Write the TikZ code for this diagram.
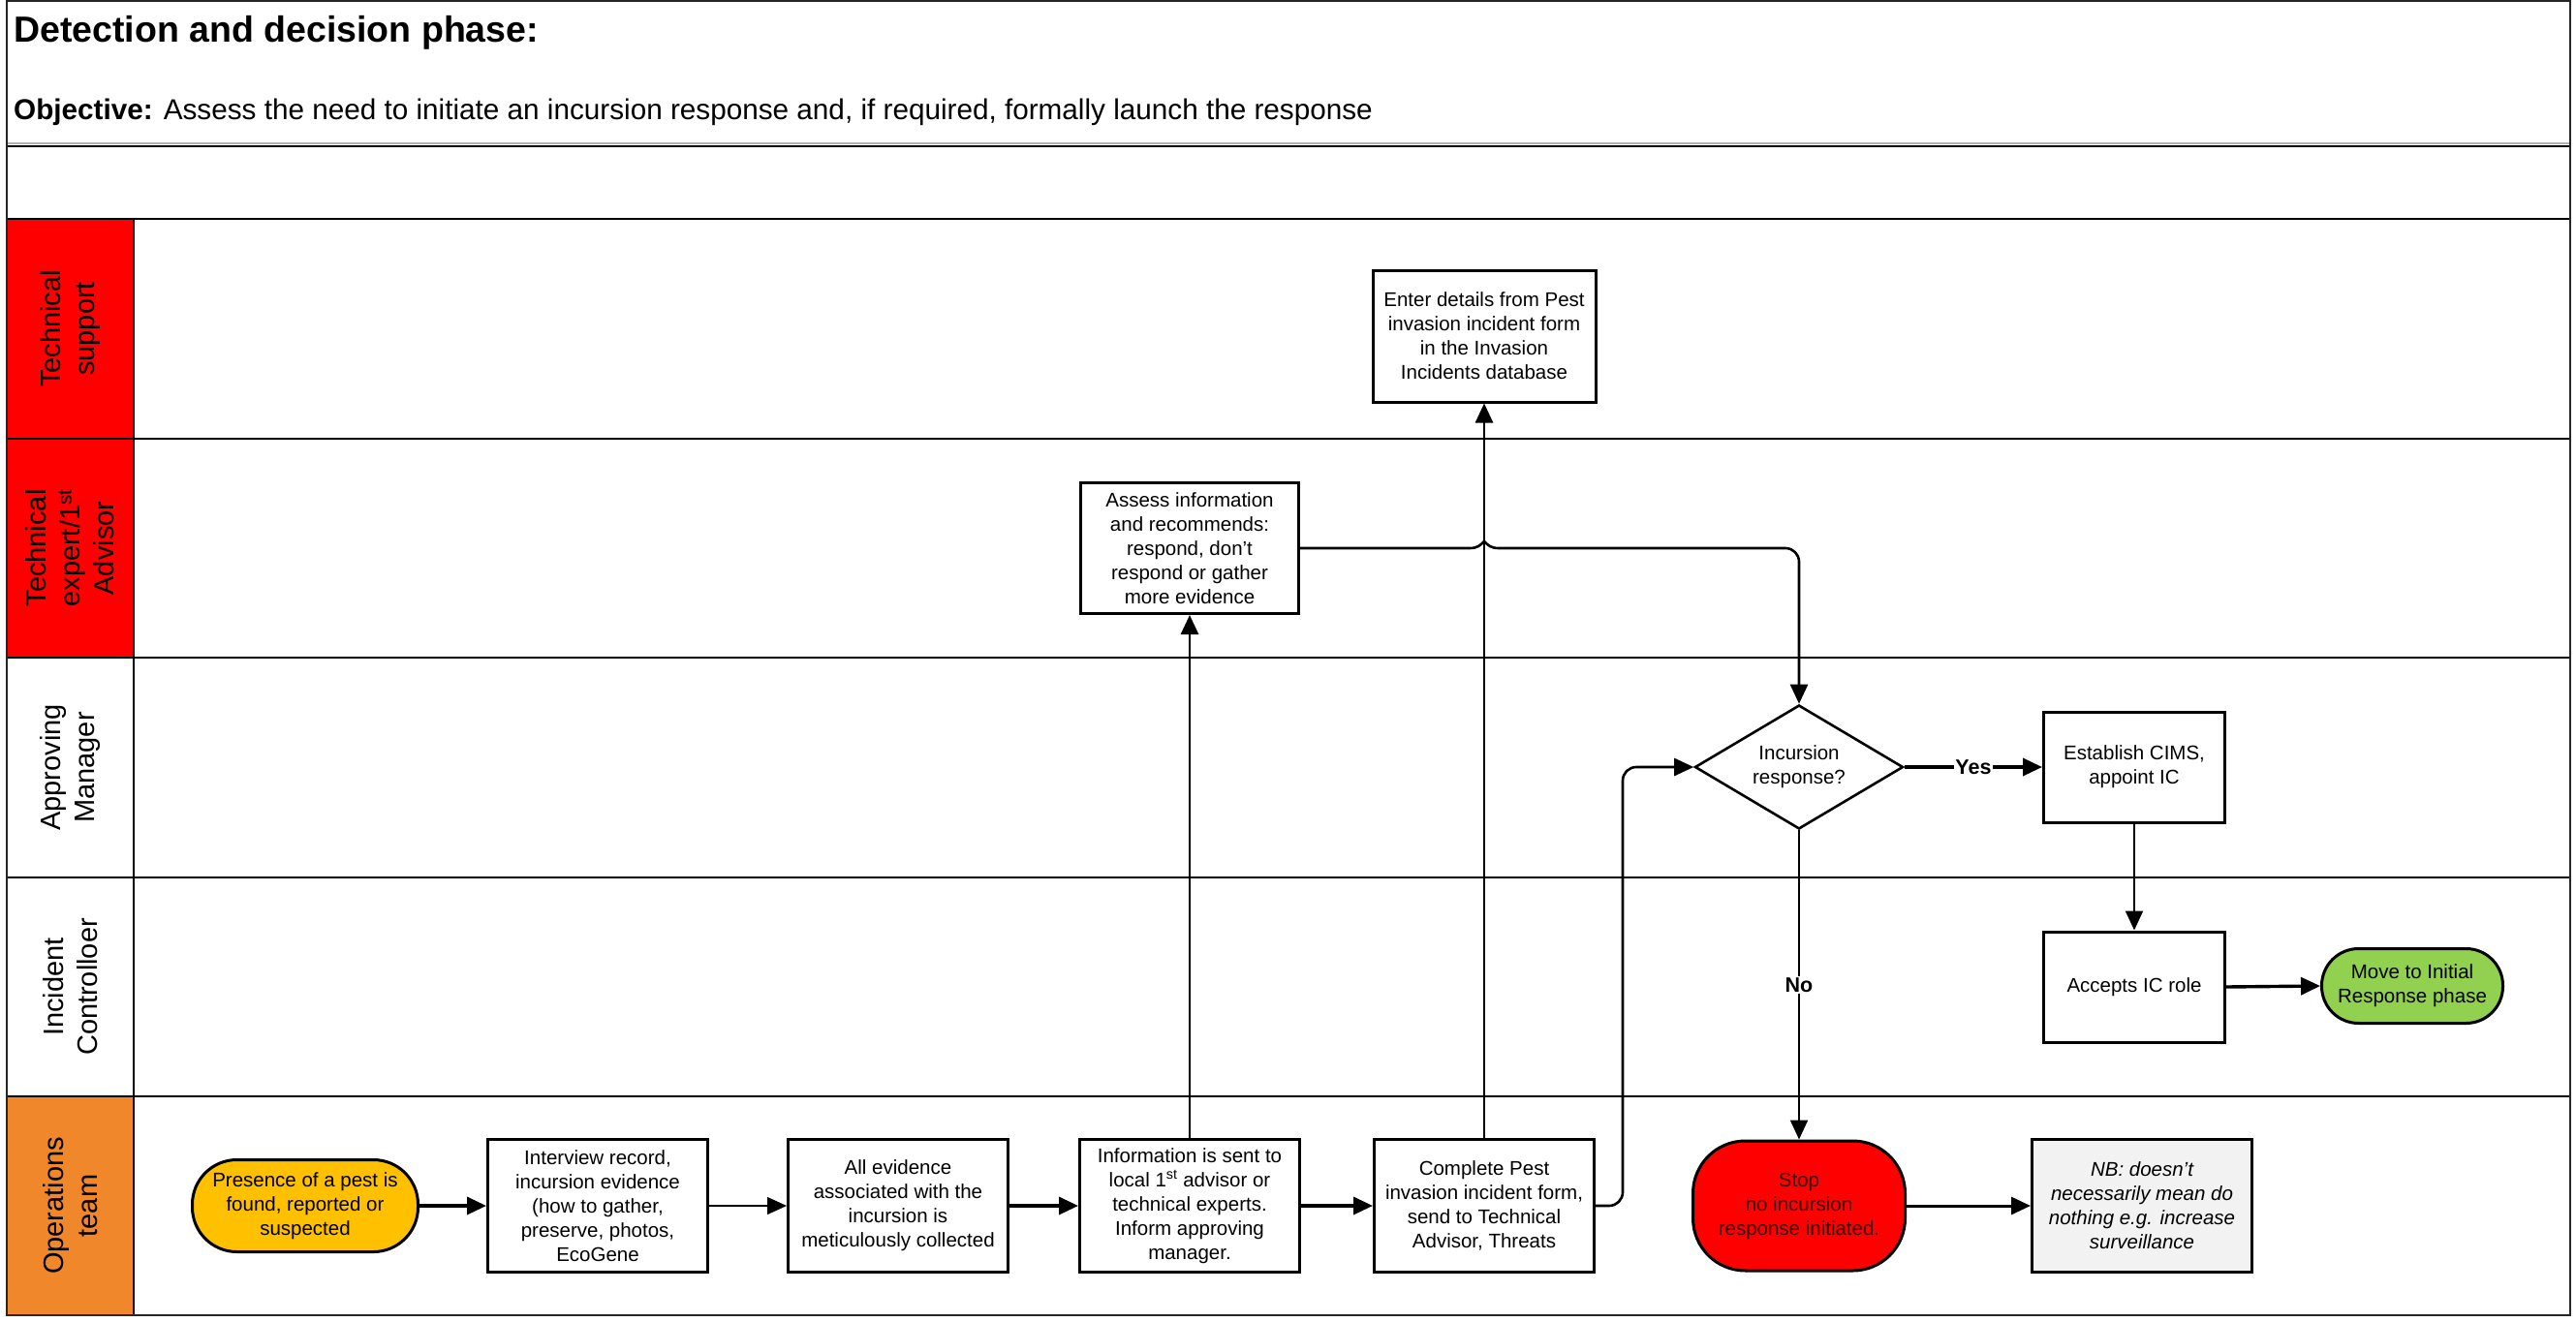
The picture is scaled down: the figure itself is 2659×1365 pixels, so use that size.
\documentclass[tikz,border=0pt]{standalone}
\usepackage{fontspec}
\setmainfont{Liberation Sans}
\usetikzlibrary{arrows.meta,shapes.geometric}
\definecolor{lanered}{RGB}{255,0,0}
\definecolor{laneorange}{RGB}{241,135,43}
\definecolor{startyellow}{RGB}{255,192,0}
\definecolor{movegreen}{RGB}{146,208,80}
\definecolor{nbgray}{RGB}{242,242,242}
\definecolor{stoptext}{RGB}{60,0,0}
\newcommand\bxfont{\fontsize{20.5}{25}\selectfont}
\newcommand\lnfont{\fontsize{29}{35}\selectfont}
\begin{document}
\begin{tikzpicture}[x=1pt,y=-1pt,
  tip/.style={-{Triangle[length=20pt,width=18pt]}},
  procbox/.style={draw, line width=3pt, align=center, inner sep=2pt, font=\bxfont, minimum width=227pt, minimum height=137pt},
  termbox/.style={draw, line width=3pt, align=center, inner sep=0pt, font=\bxfont},
  lanelbl/.style={rotate=90, align=center, font=\lnfont, inner sep=0pt},
  thickconn/.style={line width=3.4pt, tip},
  midconn/.style={line width=2.6pt, tip},
  thinconn/.style={line width=1.3pt, tip},
  lanesep/.style={line width=2pt, black},
  lbl/.style={font=\fontsize{21.5}{25}\selectfont\bfseries, fill=white, inner sep=1.5pt}
]
\useasboundingbox (0,0) rectangle (2659,1365);
% lane label fills
\fill[lanered] (7,226) rectangle (138,453);
\fill[lanered] (7,453) rectangle (138,679);
\fill[laneorange] (7,1132) rectangle (138,1358);
% header lines
\draw[line width=1.5pt, black!30] (7,148) -- (2653,148);
\draw[lanesep] (7,151) -- (2653,151);
\draw[line width=2.5pt] (7,226) -- (2653,226);
\foreach \yy in {453,679,906,1132} \draw[lanesep] (7,\yy) -- (2653,\yy);
\draw[lanesep] (138,226) -- (138,1358);
% outer frame
\draw[line width=2.2pt, black!85] (7,1) rectangle (2653,1358);

% texts
\node[anchor=base west, font=\fontsize{37.5}{42}\selectfont\bfseries, inner sep=0pt] (title) at (14,43) {Detection and decision phase:};
\node[anchor=base west, font=\fontsize{29.7}{34}\selectfont, inner sep=0pt] (obj) at (14,123) {\textbf{Objective:} Assess the need to initiate an incursion response and, if required, formally launch the response};

% lane labels
\node[lanelbl] (ln1) at (72.5,339.5) {Technical\\support};
\node[lanelbl] (ln2) at (72.5,566) {Technical\\expert/1\textsuperscript{st}\\Advisor};
\node[lanelbl] (ln3) at (72.5,792.5) {Approving\\Manager};
\node[lanelbl] (ln4) at (72.5,1019) {Incident\\Controlloer};
\node[lanelbl] (ln5) at (72.5,1245) {Operations\\team};

% nodes
\node[termbox, fill=startyellow, rounded corners=46pt, minimum width=233pt, minimum height=95pt] (start) at (315,1245) {Presence of a pest is\\found, reported or\\suspected};
\node[procbox] (interview) at (617,1245) {Interview record,\\incursion evidence\\(how to gather,\\preserve, photos,\\EcoGene};
\node[procbox] (allev) at (927,1245) {All evidence\\associated with the\\incursion is\\meticulously collected};
\node[procbox] (info) at (1228,1245) {Information is sent to\\local 1\textsuperscript{st} advisor or\\technical experts.\\Inform approving\\manager.};
\node[procbox] (complete) at (1532,1245) {Complete Pest\\invasion incident form,\\send to Technical\\Advisor, Threats};
\node[termbox, fill=lanered, text=stoptext, rounded corners=54pt, minimum width=219pt, minimum height=134pt] (stop) at (1857,1245) {Stop\\no incursion\\response initiated.};
\node[procbox, fill=nbgray, font=\bxfont\itshape] (nb) at (2211,1245) {NB: doesn’t\\necessarily mean do\\nothing e.g. increase\\surveillance};
\node[procbox, minimum width=225pt, minimum height=135pt] (assess) at (1228,566) {Assess information\\and recommends:\\respond, don’t\\respond or gather\\more evidence};
\node[procbox, minimum width=230pt, minimum height=136pt] (enter) at (1532,347) {Enter details from Pest\\invasion incident form\\in the Invasion\\Incidents database};
\node[draw, diamond, aspect=1.68, line width=2.6pt, align=center, inner sep=0pt, font=\bxfont, minimum width=215pt, minimum height=128pt] (dia) at (1857,792) {Incursion\\response?};
\node[procbox, minimum width=187pt, minimum height=114pt] (est) at (2203,792) {Establish CIMS,\\appoint IC};
\node[procbox, minimum width=187pt, minimum height=114pt] (acc) at (2203,1019) {Accepts IC role};
\node[termbox, fill=movegreen, rounded corners=38pt, minimum width=187pt, minimum height=77pt] (move) at (2490,1018) {Move to Initial\\Response phase};

% connectors
\draw[thickconn] (start) -- (interview);
\draw[thinconn] (interview) -- (allev);
\draw[thickconn] (allev) -- (info);
\draw[thickconn] (info) -- (complete);
\draw[midconn] (info.north) -- (assess.south);
\draw[midconn] (complete.north) -- (enter.south);
\draw[midconn, rounded corners=14pt] (complete.east) -- ++(28,0) |- (dia.west);
\coordinate (hopa) at ([xshift=-15pt]complete.north |- assess.east);
\coordinate (hopp) at ([yshift=7pt]complete.north |- assess.east);
\coordinate (hopb) at ([xshift=15pt]complete.north |- assess.east);
\draw[midconn] (assess.east) -- (hopa) .. controls +(8,0) and +(-4,4) .. (hopp) .. controls +(4,4) and +(-8,0) .. (hopb) [rounded corners=14pt] -- (dia.north |- assess.east) -- (dia.north);
\draw[thickconn] (dia.east) -- node[lbl] (yes) {Yes} (est.west);
\draw[line width=2pt, tip] (est.south) -- (acc.north);
\draw[thickconn] (acc.east) -- (move.west);
\draw[line width=2.2pt, tip] (dia.south) -- node[lbl, pos=0.5] (no) {No} (stop.north);
\draw[line width=3pt, tip] (stop.east) -- (nb.west);
\end{tikzpicture}
\end{document}
